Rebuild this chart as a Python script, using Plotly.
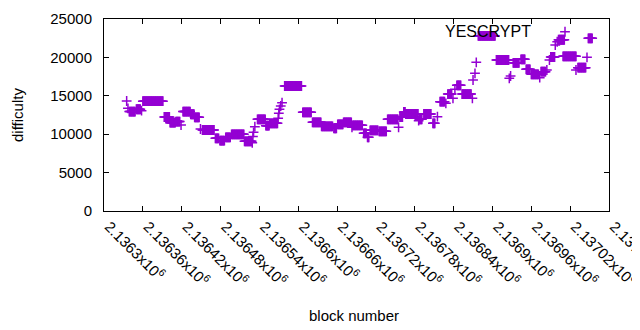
import plotly.graph_objects as go

# Runs of consecutive blocks sharing one difficulty value
run_start = [2136335, 2136337, 2136339, 2136350, 2136358, 2136360, 2136393, 2136402, 2136411, 2136419,
             2136422, 2136434, 2136440, 2136449, 2136452, 2136472, 2136479, 2136488, 2136497, 2136517,
             2136529, 2136530, 2136531, 2136533, 2136537, 2136550, 2136556, 2136569, 2136570, 2136571,
             2136573, 2136575, 2136579, 2136607, 2136622, 2136636, 2136655, 2136661, 2136670, 2136683,
             2136684, 2136701, 2136707, 2136711, 2136725, 2136738, 2136755, 2136757, 2136763, 2136766,
             2136786, 2136787, 2136794, 2136808, 2136815, 2136819, 2136828, 2136831, 2136839, 2136842,
             2136845, 2136853, 2136869, 2136870, 2136873, 2136875, 2136878, 2136906, 2136926, 2136928,
             2136932, 2136944, 2136952, 2136960, 2136973, 2136975, 2136984, 2136988, 2136990, 2136997,
             2137000, 2137002, 2137009, 2137029, 2137032, 2137046, 2137048]
run_end = [2136335, 2136337, 2136348, 2136356, 2136358, 2136391, 2136401, 2136410, 2136417, 2136419,
           2136433, 2136439, 2136447, 2136449, 2136470, 2136477, 2136486, 2136495, 2136516, 2136528,
           2136529, 2136530, 2136531, 2136533, 2136549, 2136555, 2136568, 2136569, 2136570, 2136571,
           2136573, 2136575, 2136605, 2136620, 2136635, 2136653, 2136659, 2136669, 2136682, 2136683,
           2136699, 2136705, 2136709, 2136723, 2136736, 2136754, 2136755, 2136761, 2136765, 2136785,
           2136786, 2136791, 2136805, 2136811, 2136815, 2136826, 2136828, 2136837, 2136839, 2136842,
           2136851, 2136867, 2136869, 2136870, 2136873, 2136875, 2136904, 2136925, 2136926, 2136928,
           2136941, 2136950, 2136958, 2136971, 2136973, 2136982, 2136984, 2136988, 2136996, 2136997,
           2137000, 2137011, 2137029, 2137029, 2137044, 2137046, 2137054]
run_value = [14320, 13370, 12950, 13250, 13060, 14300, 12240, 11500, 11650, 11200,
             12950, 12600, 12200, 10680, 10550, 9460, 9160, 9590, 9990, 9070,
             8880, 9700, 10250, 10980, 11940, 11110, 11420, 12070, 12720, 13240,
             13670, 14100, 16275, 12850, 11550, 11030, 10770, 11290, 11550, 10900,
             11160, 10110, 9590, 10500, 10370, 11940, 10900, 12240, 12900, 12630,
             11760, 11940, 12630, 11420, 12280, 14230, 14020, 15230, 14670, 15840,
             16360, 15230, 14670, 17060, 17930, 19360, 22800, 19660, 17270, 17580,
             19300, 19750, 18450, 17800, 17360, 18140, 18360, 19660, 20050, 21610,
             22040, 22300, 20140, 18360, 18660, 20010, 22490]

series_name = "YESCRYPT"

tick_vals = [2136300, 2136360, 2136420, 2136480, 2136540, 2136600, 2136660,
             2136720, 2136780, 2136840, 2136900, 2136960, 2137020, 2137080]
tick_text = ["2.1363x10<sup>6</sup>", "2.13636x10<sup>6</sup>", "2.13642x10<sup>6</sup>",
             "2.13648x10<sup>6</sup>", "2.13654x10<sup>6</sup>", "2.1366x10<sup>6</sup>",
             "2.13666x10<sup>6</sup>", "2.13672x10<sup>6</sup>", "2.13678x10<sup>6</sup>",
             "2.13684x10<sup>6</sup>", "2.1369x10<sup>6</sup>", "2.13696x10<sup>6</sup>",
             "2.13702x10<sup>6</sup>", "2.13708x10<sup>6</sup>"]
y_tick_vals = [0, 5000, 10000, 15000, 20000, 25000]
y_tick_text = ["0", "5000", "10000", "15000", "20000", "25000"]

blocks, values = [], []
for s, e, v in zip(run_start, run_end, run_value):
    for b in range(s, e + 1):
        blocks.append(b)
        values.append(v)

COLOR = "#9400d3"
FONT = "Liberation Sans, Arial, sans-serif"

fig = go.Figure()
fig.add_trace(go.Scatter(
    x=blocks, y=values, mode="markers", name=" ",
    marker=dict(symbol="cross-thin", size=7, color=COLOR,
                line=dict(color=COLOR, width=1.5)),
    showlegend=True,
))

axis_common = dict(showline=True, linecolor="black", linewidth=1, mirror="ticks",
                   ticks="inside", ticklen=5, tickwidth=1, tickcolor="black",
                   showgrid=False, zeroline=False, automargin=False,
                   tickfont=dict(family=FONT, size=15, color="black"))

# the page body adds an 8px offset, so margins are set 8px smaller at left/top
fig.update_layout(
    width=640, height=330,
    margin=dict(l=96, r=39, t=11, b=127, autoexpand=False),
    paper_bgcolor="white", plot_bgcolor="white",
    showlegend=True,
    xaxis=dict(range=[2136300, 2137080], tickmode="array", tickvals=tick_vals,
               ticktext=tick_text, tickangle=45, ticklabeloverflow="allow",
               ticklabelshift=5, **axis_common),
    yaxis=dict(range=[0, 25000], tickmode="array", tickvals=y_tick_vals,
               ticktext=y_tick_text, ticklabelstandoff=8, **axis_common),
    legend=dict(x=(545 - 104) / 505, y=(211 - 32) / 192, xanchor="left", yanchor="middle",
                bgcolor="rgba(0,0,0,0)", font=dict(family=FONT, size=15),
                itemwidth=30, borderwidth=0),
    annotations=[
        dict(text=series_name, xref="paper", yref="paper", x=(533 - 104) / 505,
             y=(211 - 31) / 192, xanchor="right", yanchor="middle", showarrow=False,
             font=dict(family=FONT, size=16, color="black")),
        dict(text="difficulty", xref="paper", yref="paper", x=(17 - 104) / 505, y=0.5,
             textangle=-90, xanchor="center", yanchor="middle", showarrow=False,
             font=dict(family=FONT, size=15, color="black")),
        dict(text="block number", xref="paper", yref="paper", x=(354 - 104) / 505,
             y=(211 - 315) / 192, xanchor="center", yanchor="middle", showarrow=False,
             font=dict(family=FONT, size=15, color="black")),
    ],
)

fig.write_html("out.html")
